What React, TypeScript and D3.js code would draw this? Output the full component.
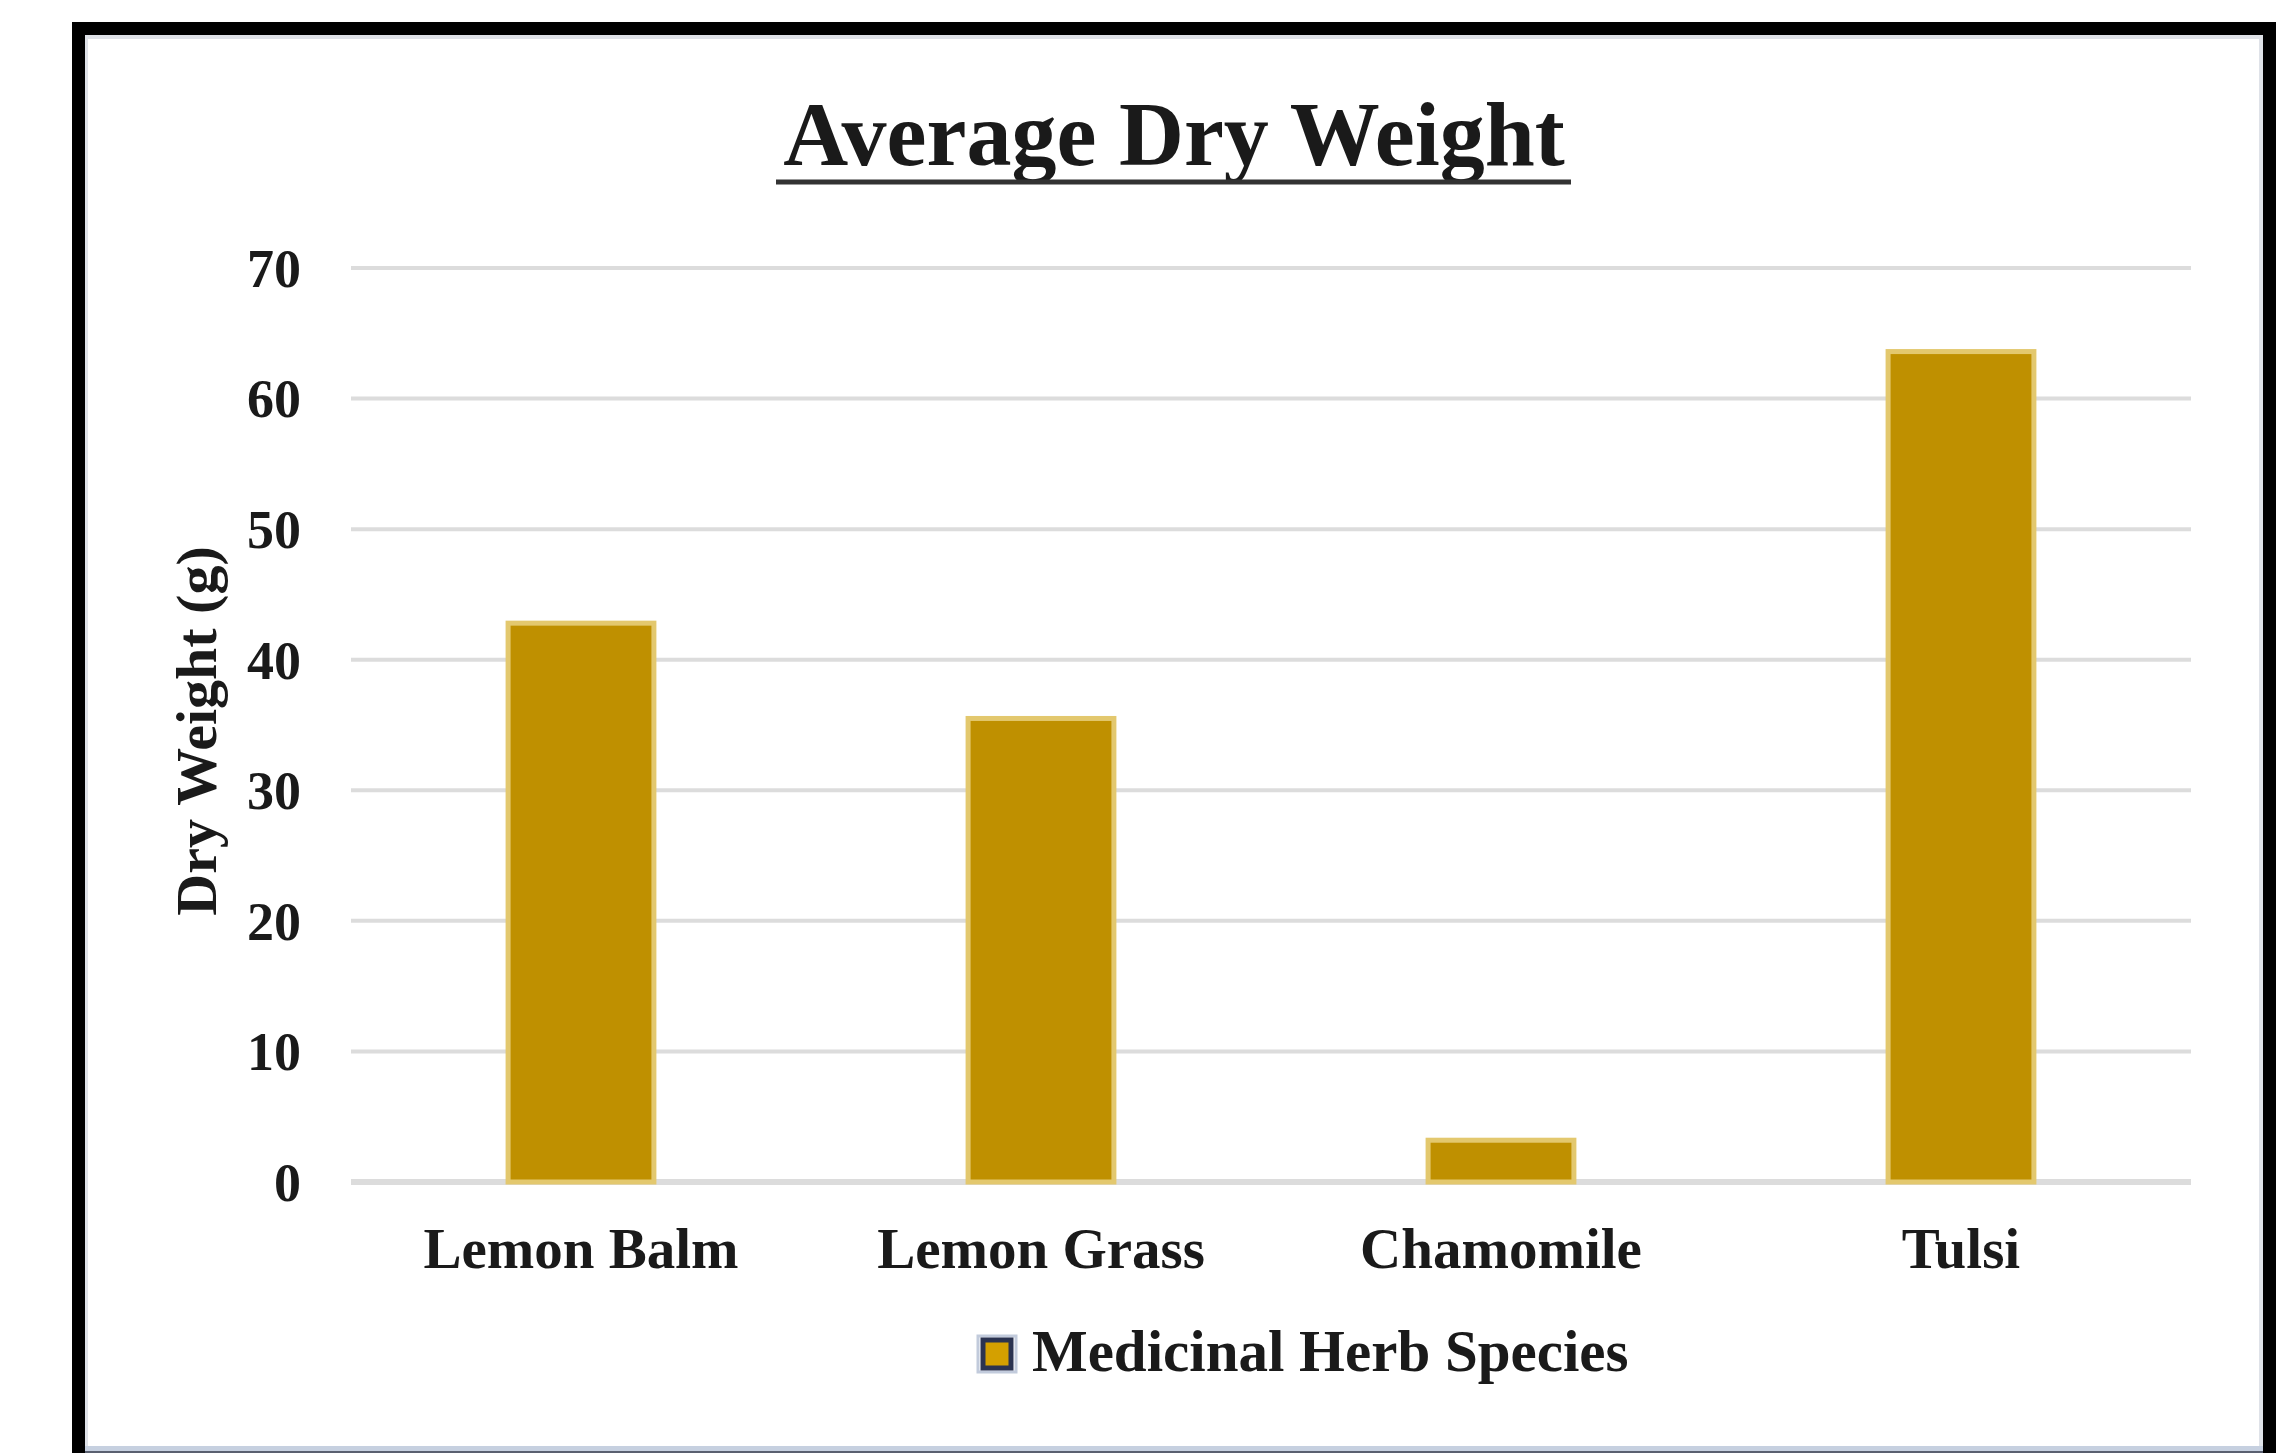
import React from "react";
import * as d3 from "d3";

const CATEGORIES = ["Lemon Balm", "Lemon Grass", "Chamomile", "Tulsi"];
const DRY_WEIGHT = [42.8, 35.5, 3.2, 63.6];
const Y_TICKS = [0, 10, 20, 30, 40, 50, 60, 70];
const SERIES_NAME = "Medicinal Herb Species";

const W = 2295;
const H = 1453;
const FONT = '"Liberation Serif", "Times New Roman", serif';
const GOLD = "#BF9000";

const App = () => {
  const x = d3.scaleBand<string>().domain(CATEGORIES).range([351, 2191]).padding(0);
  const y = d3.scaleLinear().domain([0, 70]).range([1182, 268]);
  const barW = x.bandwidth() * 0.317;

  return (
    <svg
      width={W}
      height={H}
      style={{ position: "absolute", left: 0, top: 0, background: "#fff" }}
    >
      <rect x={0} y={0} width={W} height={H} fill="#fff" />
      {/* frame */}
      <rect x={86} y={37} width={2175} height={1420} fill="none" stroke="#dfe2e8" strokeWidth={4} />
      <rect x={78.5} y={28.5} width={2191} height={1500} fill="none" stroke="#000" strokeWidth={13} />
      <rect x={85} y={1446} width={2178} height={7} fill="#c6d0e0" />
      <rect x={85} y={1451} width={2178} height={2} fill="#5a6070" />

      {/* title */}
      <text
        x={1174}
        y={165}
        textAnchor="middle"
        fontFamily={FONT}
        fontWeight="bold"
        fontSize={90}
        fill="#1a1a1a"
      >
        Average Dry Weight
      </text>
      <line x1={776} x2={1571} y1={182} y2={182} stroke="#333" strokeWidth={5} />

      {/* gridlines and y ticks */}
      {Y_TICKS.map((t) => (
        <g key={t}>
          <line
            x1={x.range()[0]}
            x2={x.range()[1]}
            y1={y(t)}
            y2={y(t)}
            stroke="#dcdcdc"
            strokeWidth={t === 0 ? 6 : 4}
          />
          <text
            x={301}
            y={y(t)}
            dy="0.35em"
            textAnchor="end"
            fontFamily={FONT}
            fontWeight="bold"
            fontSize={54}
            fill="#1a1a1a"
          >
            {t}
          </text>
        </g>
      ))}

      {/* bars */}
      {CATEGORIES.map((c, i) => {
        const cx = (x(c) ?? 0) + x.bandwidth() / 2;
        return (
          <rect
            key={c}
            x={cx - barW / 2}
            y={y(DRY_WEIGHT[i])}
            width={barW}
            height={y(0) - y(DRY_WEIGHT[i])}
            fill={GOLD}
            stroke="#e3c86e"
            strokeWidth={5}
          />
        );
      })}

      {/* category labels */}
      {CATEGORIES.map((c) => (
        <text
          key={c}
          x={(x(c) ?? 0) + x.bandwidth() / 2}
          y={1268}
          textAnchor="middle"
          fontFamily={FONT}
          fontWeight="bold"
          fontSize={57}
          fill="#1a1a1a"
        >
          {c}
        </text>
      ))}

      {/* y axis title */}
      <text
        transform="translate(216, 731) rotate(-90)"
        textAnchor="middle"
        fontFamily={FONT}
        fontWeight="bold"
        fontSize={58}
        fill="#1a1a1a"
      >
        Dry Weight (g)
      </text>

      {/* legend */}
      <rect x={978} y={1336} width={38} height={36} fill="none" stroke="#c2cbdc" strokeWidth={3} />
      <rect x={983} y={1340} width={28} height={28} fill="#D4A000" stroke="#2b3350" strokeWidth={5} />
      <text
        x={1032}
        y={1371}
        fontFamily={FONT}
        fontWeight="bold"
        fontSize={59}
        fill="#1a1a1a"
      >
        {SERIES_NAME}
      </text>
    </svg>
  );
};

export default App;
